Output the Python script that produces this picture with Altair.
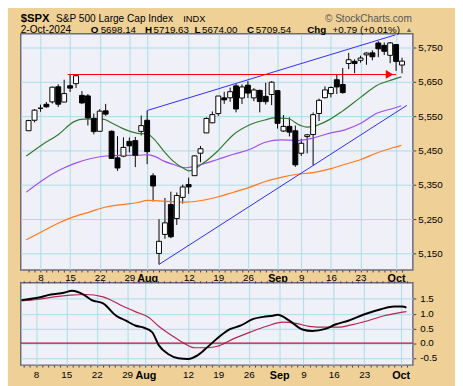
import json
import altair as alt
import pandas as pd

# ---------------- data (trading days 3-Jul-2024 .. 2-Oct-2024, index 0..63) -------------
opens = [5507.44, 5537.91, 5572.75, 5584.24, 5591.26, 5635.21, 5590.76, 5638.16, 5644.09, 5610.07,
         5608.56, 5543.37, 5505.84, 5565.30, 5505.97, 5428.70, 5433.67, 5476.55, 5478.73, 5505.59,
         5537.84, 5376.63, 5151.14, 5206.42, 5293.13, 5252.57, 5314.01, 5351.04, 5376.98, 5442.19,
         5501.13, 5530.50, 5557.23, 5602.88, 5603.09, 5637.77, 5602.49, 5639.66, 5602.89, 5624.51,
         5607.30, 5612.74, 5623.89, 5506.68, 5520.08, 5507.33, 5442.07, 5490.51, 5496.42, 5557.48,
         5603.34, 5615.14, 5655.51, 5641.68, 5702.63, 5709.13, 5711.90, 5727.81, 5733.65, 5762.22,
         5755.36, 5726.52, 5757.73, 5698.14]
highs = [5539.27, 5570.33, 5583.11, 5590.75, 5635.39, 5642.45, 5655.56, 5670.84, 5667.34, 5622.49,
         5614.05, 5557.50, 5570.36, 5585.34, 5508.04, 5491.59, 5488.32, 5487.74, 5489.46, 5551.51,
         5566.16, 5383.89, 5250.89, 5312.34, 5330.64, 5328.03, 5351.14, 5371.20, 5436.50, 5463.22,
         5546.23, 5563.36, 5608.30, 5620.51, 5632.68, 5643.22, 5641.82, 5651.62, 5631.18, 5627.03,
         5646.95, 5651.37, 5623.89, 5552.99, 5546.30, 5522.47, 5484.20, 5497.91, 5560.41, 5600.71,
         5636.27, 5636.05, 5670.81, 5689.75, 5733.57, 5715.14, 5725.36, 5735.32, 5741.03, 5767.37,
         5763.78, 5765.14, 5757.73, 5719.63]
lows = [5507.42, 5531.63, 5562.51, 5574.57, 5586.44, 5576.53, 5590.44, 5619.90, 5631.33, 5584.81,
        5522.81, 5497.04, 5505.84, 5550.90, 5426.99, 5390.95, 5430.70, 5444.44, 5401.77, 5493.75,
        5410.42, 5302.03, 5119.26, 5193.56, 5195.54, 5233.85, 5295.93, 5324.37, 5376.98, 5415.71,
        5501.13, 5529.44, 5550.74, 5585.50, 5591.57, 5560.95, 5585.16, 5602.34, 5593.48, 5560.95,
        5583.71, 5581.79, 5513.68, 5503.66, 5490.92, 5402.62, 5434.49, 5441.72, 5406.96, 5535.50,
        5601.65, 5604.53, 5614.05, 5615.08, 5686.42, 5674.49, 5704.94, 5698.99, 5712.06, 5721.01,
        5727.34, 5703.53, 5681.28, 5674.00]
closes = [5537.02, 5567.19, 5572.85, 5576.98, 5633.91, 5584.54, 5615.35, 5631.22, 5667.20, 5588.27,
          5544.59, 5505.00, 5564.41, 5555.74, 5427.13, 5399.22, 5459.10, 5463.54, 5436.44, 5522.30,
          5446.68, 5346.99, 5186.33, 5240.03, 5199.50, 5319.31, 5344.16, 5344.39, 5434.43, 5455.21,
          5543.22, 5554.25, 5608.25, 5597.12, 5620.85, 5570.64, 5634.61, 5616.84, 5625.80, 5592.18,
          5591.96, 5648.40, 5528.93, 5520.07, 5503.41, 5408.42, 5471.05, 5495.52, 5554.13, 5595.76,
          5626.02, 5633.09, 5634.58, 5618.26, 5713.64, 5702.55, 5718.57, 5732.93, 5722.26, 5745.37,
          5738.17, 5762.48, 5708.75, 5709.54]

# moving averages (day index, value)
ma20_x = [-0.39, 2.29, 4.98, 7.68, 9.29, 12.52, 14.13, 15.74, 18.42, 20.03, 21.11, 22.73, 24.34,
          26.48, 27.03, 29.18, 31.87, 34.55, 37.24, 39.94, 41.55, 43.69, 45.84, 46.92, 48.0,
          50.68, 52.84, 56.06, 58.74, 61.44, 62.89]
ma20_v = [5434, 5467, 5496, 5534, 5541, 5541, 5529, 5515, 5500, 5498, 5484, 5450, 5420,
          5395, 5391, 5410, 5448, 5496, 5524, 5539, 5545, 5543, 5523, 5518, 5520,
          5539, 5563, 5605, 5639, 5656, 5664]
ma50_x = [-0.39, 2.29, 4.98, 7.68, 10.35, 13.05, 15.74, 18.42, 20.03, 21.65, 22.73, 24.34, 26.48,
          29.18, 31.87, 34.55, 37.24, 39.94, 42.61, 45.31, 48.0, 50.68, 53.37, 56.06, 58.74,
          61.44, 62.89]
ma50_v = [5329, 5363, 5391, 5412, 5426, 5434, 5436, 5436, 5438, 5430, 5420, 5410, 5400,
          5410, 5424, 5439, 5453, 5474, 5481, 5479, 5486, 5500, 5510, 5529, 5558,
          5572, 5580]
ma100_x = [-0.39, 2.29, 4.98, 7.68, 10.35, 13.05, 15.74, 18.42, 20.03, 22.73, 26.48, 29.18,
           31.87, 34.55, 37.24, 39.94, 42.61, 45.31, 48.0, 50.68, 53.37, 56.06, 58.74, 61.44, 62.89]
ma100_v = [5191, 5215, 5239, 5258, 5272, 5286, 5293, 5299, 5305, 5303, 5300, 5305,
           5315, 5329, 5343, 5360, 5372, 5381, 5386, 5396, 5410, 5424, 5443, 5458, 5465]

# trend lines (day index, price)
up_trend_x = [20, 61.9]
up_trend_v = [5566.16, 5786]
low_trend_x = [22, 63.8]
low_trend_v = [5119.26, 5581]
resist_x = [6.6, 62.0]
resist_v = 5670.8
arrow_x = 60.9

# lower indicator panel (day index, value)
ind_x = [-0.39, 2.29, 4.45, 6.6, 7.94, 9.82, 11.16, 13.05, 15.19, 16.81, 18.42, 19.5, 21.11,
         22.19, 23.81, 25.42, 27.03, 28.65, 30.26, 32.4, 34.02, 35.63, 37.77, 39.39, 41.0, 41.76,
         43.69, 45.84, 47.45, 49.61, 51.23, 53.37, 56.06, 58.74, 60.9, 62.24, 62.94]
ind_v = [1.46, 1.54, 1.65, 1.71, 1.78, 1.65, 1.46, 1.35, 0.93, 0.76, 0.59, 0.54, 0.37,
         -0.07, -0.38, -0.52, -0.54, -0.41, -0.13, 0.26, 0.48, 0.59, 0.82, 0.89, 0.93, 0.96,
         0.76, 0.46, 0.41, 0.48, 0.63, 0.76, 0.98, 1.15, 1.24, 1.24, 1.21]
sig_x = [-0.39, 2.29, 4.98, 7.68, 10.1, 13.05, 14.13, 16.27, 18.42, 20.58, 22.19, 24.34, 26.48,
         28.1, 30.26, 31.87, 34.55, 37.24, 39.94, 42.61, 44.77, 46.92, 49.61, 51.76, 53.9,
         56.6, 59.29, 61.44, 62.94]
sig_v = [1.43, 1.48, 1.57, 1.63, 1.65, 1.57, 1.48, 1.26, 1.06, 0.87, 0.57, 0.26, -0.02,
         -0.16, -0.16, -0.11, 0.15, 0.37, 0.57, 0.71, 0.67, 0.57, 0.54, 0.54, 0.62,
         0.76, 0.93, 1.02, 1.07]

tick_pos = [2, 7, 12, 17, 20, 27, 32, 37, 42, 46, 51, 56, 62]
tick_lab = ["8", "15", "22", "29", "Aug", "12", "19", "26", "Sep", "9", "16", "23", "Oct"]
month_pos = [20, 42, 62]
price_ticks = [5150, 5200, 5250, 5300, 5350, 5400, 5450, 5500, 5550, 5600, 5650, 5700, 5750]
ind_ticks = [-0.5, 0.0, 0.5, 1.0, 1.5]
ind_tick_lab = ["-0.5", "0.0", "0.5", "1.0", "1.5"]

# ---------------- frames -------------
n = len(closes)
candles = pd.DataFrame({
    "i": list(range(n)), "o": opens, "h": highs, "l": lows, "c": closes,
})
candles["top"] = candles[["o", "c"]].max(axis=1)
candles["bot"] = candles[["o", "c"]].min(axis=1)
candles["dir"] = ["up" if c >= o else "down" for o, c in zip(opens, closes)]

one = pd.DataFrame({"a": [0]})

XDOM = [-0.5, 64.0]
W = 400
xs = alt.Scale(domain=XDOM, nice=False, zero=False)
ys = alt.Scale(domain=[5103, 5789], nice=False, zero=False)
ys2 = alt.Scale(domain=[-0.75, 2.05], nice=False, zero=False)

days = list(range(n))
lab_expr = "indexof(%s, datum.value) >= 0 ? %s[indexof(%s, datum.value)] : ''" % (
    json.dumps(tick_pos), json.dumps(tick_lab), json.dumps(tick_pos))
major_test = "indexof(%s, datum.value) >= 0" % json.dumps(tick_pos)
month_test = "indexof(%s, datum.value) >= 0" % json.dumps(month_pos)

GRID = "#a9dde6"
TICK = "#3c3c5a"


def x_axis_bottom(pad):
    return alt.Axis(values=days, labelExpr=lab_expr, grid=True,
                    gridOpacity={"condition": {"test": major_test, "value": 1}, "value": 0},
                    labelFontWeight={"condition": {"test": month_test, "value": "bold"}, "value": "normal"},
                    labelFontSize={"condition": {"test": month_test, "value": 11}, "value": 10},
                    tickSize=2, labelPadding=pad, labelOverlap=False, labelFlush=False,
                    labelBound=False, title=None, orient="bottom")


# ---------------- main panel -------------
main_x_axis = x_axis_bottom(1)
wick = alt.Chart(candles).mark_rule(color="black", strokeWidth=1).encode(
    x=alt.X("i:Q", scale=xs, axis=main_x_axis),
    y=alt.Y("l:Q", scale=ys, axis=alt.Axis(values=price_ticks, orient="right", grid=True,
                                            tickSize=3, labelPadding=2, title=None,
                                            labelOverlap=False, labelBaseline="middle")),
    y2="h:Q",
)
body = alt.Chart(candles).mark_bar(size=5, stroke="black", strokeWidth=1).encode(
    x=alt.X("i:Q", scale=xs, axis=main_x_axis), y="bot:Q", y2="top:Q",
    fill=alt.Fill("dir:N", scale=alt.Scale(domain=["up", "down"], range=["white", "black"]),
                  legend=None),
)


def line_layer(xv, vv, color, width, scale, interp="monotone", xaxis=main_x_axis, yaxis=None):
    df = pd.DataFrame({"x": xv, "v": vv})
    yenc = alt.Y("v:Q", scale=scale) if yaxis is None else alt.Y("v:Q", scale=scale, axis=yaxis)
    return alt.Chart(df).mark_line(color=color, strokeWidth=width, interpolate=interp).encode(
        x=alt.X("x:Q", scale=xs, axis=xaxis), y=yenc)


ma20 = line_layer(ma20_x, ma20_v, "#2e7d2e", 1.2, ys)
ma50 = line_layer(ma50_x, ma50_v, "#a050f0", 1.2, ys)
ma100 = line_layer(ma100_x, ma100_v, "#ff7a1a", 1.2, ys)
tr_up = line_layer(up_trend_x, up_trend_v, "#2a2aff", 1, ys, "linear")
tr_low = line_layer(low_trend_x, low_trend_v, "#2a2aff", 1, ys, "linear")

resist = alt.Chart(one).mark_rule(color="#ff0000", strokeWidth=1.2).encode(
    x=alt.datum(resist_x[0], axis=main_x_axis), x2=alt.datum(resist_x[1]), y=alt.datum(resist_v))
arrow = alt.Chart(one).mark_point(shape="triangle-right", filled=True, color="#ff0000",
                                  opacity=1, size=80).encode(
    x=alt.datum(arrow_x, axis=main_x_axis), y=alt.datum(resist_v))


def txt(s, x, y, size=10, weight="normal", color="black", align="left"):
    return alt.Chart(one).mark_text(fontSize=size, fontWeight=weight, color=color, align=align,
                                    baseline="alphabetic", font="Arial").encode(
        x=alt.value(x), y=alt.value(y), text=alt.value(s))


L1, L2 = -12.5, -1
header = [
    txt("$SPX", 0, L1, 11.5, "bold"),
    txt("S&P 500 Large Cap Index", 36, L1, 10.3),
    txt("INDX", 165.7, L1, 9.5),
    txt("\u00a9 StockCharts.com", 399, L1, 10.3, color="#555555", align="right"),
    txt("2-Oct-2024", 0, L2, 10.3),
    txt("O", 71.3, L2, 10, "bold"), txt("5698.14", 81.5, L2, 10),
    txt("H", 126.7, L2, 10, "bold"), txt("5719.63", 135.5, L2, 10),
    txt("L", 177.3, L2, 10, "bold"), txt("5674.00", 185, L2, 10),
    txt("C", 230.7, L2, 10, "bold"), txt("5709.54", 239.8, L2, 10),
    txt("Chg", 292.3, L2, 10, "bold"), txt("+0.79 (+0.01%)", 318, L2, 10),
    txt("\u25b2", 392.5, L2 - 1, 7, color="#666666"),
]

main = alt.layer(wick, ma100, ma50, ma20, tr_up, tr_low, resist, arrow, body, *header).properties(
    width=W, height=241)

# ---------------- indicator panel -------------
ind_lab_expr = "%s[indexof(%s, datum.value)]" % (json.dumps(ind_tick_lab), json.dumps(ind_ticks))
lower_y_axis = alt.Axis(values=ind_ticks, labelExpr=ind_lab_expr, orient="right",
                        grid=True, tickSize=3, labelPadding=4, title=None,
                        labelOverlap=False, labelBaseline="middle")
top_ticks_axis = alt.Axis(values=days, orient="top", labels=False, grid=False, tickSize=2,
                          title=None)

sig_line = line_layer(sig_x, sig_v, "#b3264f", 1.2, ys2, xaxis=x_axis_bottom(3), yaxis=lower_y_axis)
ind_line = line_layer(ind_x, ind_v, "black", 2, ys2, xaxis=top_ticks_axis, yaxis=lower_y_axis)
zero = alt.Chart(one).mark_rule(color="#c0103c", strokeWidth=1.2).encode(
    y=alt.datum(0, axis=lower_y_axis))

lower = alt.layer(sig_line, zero, ind_line).resolve_axis(x="independent").properties(
    width=W, height=84)

chart = alt.vconcat(main, lower, spacing=13, bounds="flush").properties(
    background="#efd197",
    padding={"left": 8, "top": -0.5, "right": 12, "bottom": 0},
).configure_view(
    fill="#f0f0f8", stroke="#6b6b80", strokeWidth=1.5,
).configure_axis(
    domain=False, labelFont="Arial", labelFontSize=10, labelColor="black",
    tickColor=TICK, gridColor=GRID, gridWidth=1, labelOverlap=False,
)

chart.save("out.html", embed_options={"renderer": "svg", "actions": False})
